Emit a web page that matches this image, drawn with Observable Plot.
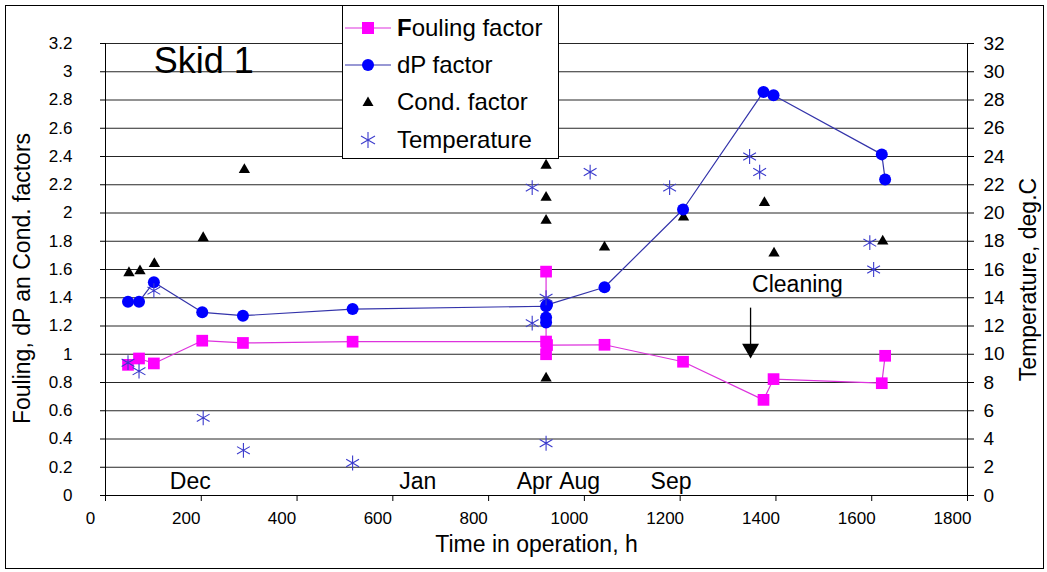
<!DOCTYPE html>
<html>
<head>
<meta charset="utf-8">
<script src="https://cdn.jsdelivr.net/npm/d3@7"></script>
<script src="https://cdn.jsdelivr.net/npm/@observablehq/plot@0.6"></script>
<style>
  body { margin: 0; background: #fff; font-family: "Liberation Sans", Arial, sans-serif; }
  #wrap { position: relative; width: 1047px; height: 572px; overflow: hidden; }
  #border { position: absolute; left: 5px; top: 5px; width: 1039px; height: 564px; border: 1px solid #000; box-sizing: border-box; pointer-events: none; }
  #legend { position: absolute; left: 342px; top: 5px; width: 217px; height: 154px; background: #fff; border: 1px solid #000; box-sizing: border-box; }
  .row { position: absolute; left: 0; height: 30px; display: flex; align-items: center; font-size: 24px; color: #000; }
  .row svg { width: 50px; height: 30px; margin-right: 4px; }
</style>
</head>
<body>
<div id="wrap">
  <div id="chart"></div>
  <div id="legend"></div>
  <div id="border"></div>
</div>
<script>
// ---- data ----
const foulingH = [47, 70, 101, 202, 287, 516, 920, 920, 920, 922, 1042, 1206, 1374, 1395, 1621, 1628];
const foulingV = [0.925, 0.97, 0.935, 1.096, 1.08, 1.089, 1.09, 1.585, 1.0, 1.065, 1.067, 0.947, 0.677, 0.824, 0.795, 0.989];

const dpH = [47, 70, 101, 202, 287, 516, 920, 920, 920, 922, 1042, 1206, 1374, 1395, 1621, 1628];
const dpV = [1.372, 1.372, 1.51, 1.297, 1.273, 1.32, 1.34, 1.225, 1.26, 1.35, 1.474, 2.025, 2.857, 2.833, 2.415, 2.238];

const condH = [49, 72, 102, 204, 290, 920, 920, 920, 920, 1042, 1207, 1376, 1396, 1623];
const condV = [1.576, 1.59, 1.64, 1.824, 2.306, 2.337, 2.11, 1.947, 0.83, 1.757, 1.97, 2.072, 1.715, 1.80];

const tempH = [47, 70, 101, 204, 288, 516, 891, 891, 920, 920, 1012, 1178, 1345, 1366, 1596, 1604];
const tempC = [9.4, 8.8, 14.5, 5.5, 3.2, 2.3, 21.8, 12.2, 14.0, 3.7, 22.9, 21.8, 24.0, 22.9, 17.9, 16.0];

const xTicks = [0, 200, 400, 600, 800, 1000, 1200, 1400, 1600, 1800];
const leftTicks = [0, 0.2, 0.4, 0.6, 0.8, 1, 1.2, 1.4, 1.6, 1.8, 2, 2.2, 2.4, 2.6, 2.8, 3, 3.2];
const rightTicks = [0, 2, 4, 6, 8, 10, 12, 14, 16, 18, 20, 22, 24, 26, 28, 30, 32];

const monthLabels = ["Dec", "Jan", "Apr", "Aug", "Sep"];
const monthH = [177, 652, 896, 990, 1181];
const monthV = 0.1;

const titleText = "Skid 1";
const titleH = 205, titleV = 3.07;
const cleaningText = "Cleaning";
const cleaningH = 1445, cleaningV = 1.49;
const arrowH = 1347, arrowFromV = 1.33, arrowToV = 1.04;

const seriesNames = ["Fouling factor", "dP factor", "Cond. factor", "Temperature"];

// ---- build tables ----
const fouling = foulingH.map((h, i) => ({h, v: foulingV[i]}));
const dp = dpH.map((h, i) => ({h, v: dpV[i]}));
const cond = condH.map((h, i) => ({h, v: condV[i]}));
const temp = tempH.map((h, i) => ({h, t: tempC[i]}));
const months = monthLabels.map((m, i) => ({m, h: monthH[i], v: monthV}));

const FONT = '"Liberation Sans", Arial, sans-serif';

const chart = Plot.plot({
  width: 1047,
  height: 572,
  marginLeft: 105,
  marginRight: 80,
  marginTop: 43,
  marginBottom: 77,
  style: {fontFamily: FONT, fontSize: "17px", color: "#000", background: "transparent", overflow: "visible"},
  x: {domain: [0, 1800], axis: null},
  y: {domain: [0, 3.2], axis: null},
  marks: [
    Plot.ruleY(leftTicks, {stroke: "#000", strokeWidth: 1, strokeOpacity: 0.85}),
    Plot.ruleX([0], {stroke: "#000", strokeWidth: 1}),
    Plot.ruleX([1800], {stroke: "#000", strokeWidth: 1}),
    Plot.ruleY([0], {x1: -10, x2: 1800, stroke: "#000", strokeWidth: 1.2}),
    Plot.axisX(xTicks, {tickSize: 6, tickFormat: () => "", label: null}),
    Plot.text(xTicks, {x: d => d, frameAnchor: "bottom", dy: 28, dx: -15, fontSize: 17, text: d => String(d)}),
    Plot.axisY(leftTicks, {anchor: "left", tickSize: 5, tickPadding: 28, fontSize: 17, tickFormat: d => String(d), label: null}),
    Plot.axisY(rightTicks.map(t => t / 10), {anchor: "right", tickSize: 6, tickPadding: 10, fontSize: 19, tickFormat: d => String(Math.round(d * 10)), label: null}),
    Plot.text(["Time in operation, h"], {frameAnchor: "bottom", dy: 56, fontSize: 23}),
    Plot.text(["Fouling, dP an Cond. factors"], {frameAnchor: "left", textAnchor: "middle", dx: -83, dy: 9, rotate: -90, fontSize: 23}),
    Plot.text(["Temperature, deg.C"], {frameAnchor: "right", textAnchor: "middle", dx: 61, dy: 10, rotate: -90, fontSize: 23}),
    Plot.text(months, {x: "h", y: "v", text: "m", fontSize: 23}),
    Plot.text([titleText], {x: () => titleH, y: () => titleV, fontSize: 36}),
    Plot.text([cleaningText], {x: () => cleaningH, y: () => cleaningV, fontSize: 23}),
    Plot.link([0], {x1: () => arrowH, x2: () => arrowH, y1: () => arrowFromV, y2: () => arrowToV, stroke: "#000", strokeWidth: 1.3}),
    Plot.dot([0], {x: () => arrowH, y: () => arrowToV, symbol: "triangle", rotate: 180, r: 6.3, fill: "#000", stroke: "none"}),
    Plot.dot(cond, {x: "h", y: "v", symbol: "triangle", r: 4.2, fill: "#000", stroke: "none"}),
    Plot.line(fouling, {x: "h", y: "v", stroke: "#dd33dd", strokeWidth: 1.2}),
    Plot.dot(fouling, {x: "h", y: "v", symbol: "square", r: 6.6, fill: "#ff00ff", stroke: "none"}),
    Plot.line(dp, {x: "h", y: "v", stroke: "#3333aa", strokeWidth: 1.2}),
    Plot.dot(dp, {x: "h", y: "v", symbol: "circle", r: 6, fill: "#0000ff", stroke: "none"}),
    Plot.dot(temp, {x: "h", y: d => d.t / 10, symbol: "asterisk", r: 7, stroke: "#3a3acc", strokeWidth: 1.1})
  ]
});
document.getElementById("chart").appendChild(chart);

// ---- legend (overlay) ----
const legend = document.getElementById("legend");
const rowTops = [7, 44, 81, 119];
const symbols = [
  `<svg viewBox="0 0 50 30"><line x1="2" y1="15" x2="48" y2="15" stroke="#dd33dd" stroke-width="1.2"/><rect x="19" y="9" width="12" height="12" fill="#ff00ff"/></svg>`,
  `<svg viewBox="0 0 50 30"><line x1="2" y1="15" x2="48" y2="15" stroke="#3333aa" stroke-width="1.2"/><circle cx="25" cy="15" r="6" fill="#0000ff"/></svg>`,
  `<svg viewBox="0 0 50 30"><path d="M25,9.5 L30.5,19 L19.5,19 Z" fill="#000"/></svg>`,
  `<svg viewBox="0 0 50 30"><g stroke="#3a3acc" stroke-width="1.1"><line x1="25" y1="7" x2="25" y2="23"/><line x1="18" y1="11" x2="32" y2="19"/><line x1="18" y1="19" x2="32" y2="11"/></g></svg>`
];
seriesNames.forEach((name, i) => {
  const row = document.createElement("div");
  row.className = "row";
  row.style.top = rowTops[i] + "px";
  row.innerHTML = symbols[i] + (i === 0 ? `<span><b>F</b>${name.slice(1)}</span>` : `<span>${name}</span>`);
  legend.appendChild(row);
});
</script>
</body>
</html>
